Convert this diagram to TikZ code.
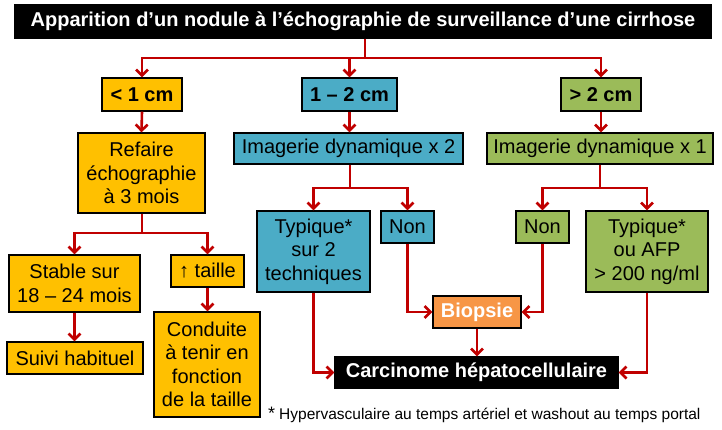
\documentclass[tikz,border=0pt]{standalone}
\usepackage{fontspec}
\setmainfont{Liberation Sans}
\usetikzlibrary{arrows.meta}
\definecolor{yel}{HTML}{FFC000}
\definecolor{blu}{HTML}{4BACC6}
\definecolor{grn}{HTML}{9BBB59}
\definecolor{org}{HTML}{F79646}
\definecolor{arr}{HTML}{C00000}
\begin{document}
\begin{tikzpicture}[x=1pt,y=-1pt,
  box/.style={draw=black, line width=1.3pt, inner sep=0pt, align=center,
    font=\fontsize{20}{23.5}\selectfont, text=black},
  darkbox/.style={box, fill=black, text=white, font=\fontsize{20}{24}\selectfont\bfseries},
  conn/.style={draw=arr, line width=2.6pt, -{Straight Barb[length=6pt,width=12pt]}}]
\useasboundingbox (0,0) rectangle (722,429);
% nodes
\node[darkbox, minimum width=696pt, minimum height=33pt] (title) at (363,21.5)
  {Apparition d’un nodule à l’échographie de surveillance d’une cirrhose};
\node[box, fill=yel, font=\fontsize{20}{24}\selectfont\bfseries, minimum width=80pt, minimum height=33pt] (sz1) at (142,94.5) {< 1 cm};
\node[box, fill=blu, font=\fontsize{20}{24}\selectfont\bfseries, minimum width=95pt, minimum height=33pt] (sz2) at (349.5,94.5) {1 – 2 cm};
\node[box, fill=grn, font=\fontsize{20}{24}\selectfont\bfseries, minimum width=80pt, minimum height=33pt] (sz3) at (601,94.5) {> 2 cm};
\node[box, fill=yel, minimum width=127pt, minimum height=80pt] (refaire) at (141.5,173) {Refaire\\échographie\\à 3 mois};
\node[box, fill=blu, minimum width=229pt, minimum height=31pt] (img2) at (348.5,148.5) {Imagerie dynamique x 2};
\node[box, fill=grn, minimum width=226pt, minimum height=31pt] (img1) at (600,148.5) {Imagerie dynamique x 1};
\node[box, fill=yel, minimum width=131pt, minimum height=57pt] (stable) at (74.5,283.5) {Stable sur\\18 – 24 mois};
\node[box, fill=yel, minimum width=73pt, minimum height=32pt] (taille) at (207.5,271) {↑ taille};
\node[box, fill=yel, minimum width=136pt, minimum height=32pt] (suivi) at (75,358) {Suivi habituel};
\node[box, fill=yel, minimum width=106pt, minimum height=105pt] (conduite) at (207,364.5) {Conduite\\à tenir en\\fonction\\de la taille};
\node[box, fill=blu, minimum width=113pt, minimum height=81pt] (typ2) at (313.5,251.5) {Typique*\\sur 2\\techniques};
\node[box, fill=blu, minimum width=53pt, minimum height=32pt] (non2) at (407.5,227) {Non};
\node[box, fill=grn, minimum width=53pt, minimum height=32pt] (non1) at (542.5,227) {Non};
\node[box, fill=grn, minimum width=122pt, minimum height=81pt] (typ1) at (647,251.5) {Typique*\\ou AFP\\> 200 ng/ml};
\node[box, fill=org, text=white, font=\fontsize{20}{24}\selectfont\bfseries, minimum width=88pt, minimum height=32pt] (biopsie) at (477,312) {Biopsie};
\node[darkbox, minimum width=283pt, minimum height=31pt] (hcc) at (476.5,372.5) {Carcinome hépatocellulaire};
\node[anchor=base west, inner sep=0pt, font=\fontsize{15.5}{18}\selectfont] (fn) at (268,419)
  {{\fontsize{18}{18}\selectfont *}\hspace{4pt}Hypervasculaire au temps artériel et washout au temps portal};
% fork points
\coordinate (tf) at (365,58);
\coordinate (rf) at (142,233);
\coordinate (f2) at (350,188);
\coordinate (f1) at (600,188);
% connectors
\draw[conn] (title.south -| tf) -- (tf) -| (sz1.north);
\draw[conn] (title.south -| tf) -- (tf) -| (sz2.north);
\draw[conn] (title.south -| tf) -- (tf) -| (sz3.north);
\draw[conn] (sz1.south) -- (refaire.north);
\draw[conn] (sz2.south) -- (sz2.south |- img2.north);
\draw[conn] (sz3.south) -- (sz3.south |- img1.north);
\draw[conn] (refaire.south -| rf) -- (rf) -| (stable.north);
\draw[conn] (refaire.south -| rf) -- (rf) -| (taille.north);
\draw[conn] (stable.south) -- (stable.south |- suivi.north);
\draw[conn] (taille.south) -- (taille.south |- conduite.north);
\draw[conn] (img2.south -| f2) -- (f2) -| (typ2.north);
\draw[conn] (img2.south -| f2) -- (f2) -| (non2.north);
\draw[conn] (img1.south -| f1) -- (f1) -| (non1.north);
\draw[conn] (img1.south -| f1) -- (f1) -| (typ1.north);
\draw[conn] (typ2.south) |- (hcc.west);
\draw[conn] (non2.south) |- (biopsie.west);
\draw[conn] (non1.south) |- (biopsie.east);
\draw[conn] (biopsie.south) -- (biopsie.south |- hcc.north);
\draw[conn] (typ1.south) |- (hcc.east);
\end{tikzpicture}
\end{document}
